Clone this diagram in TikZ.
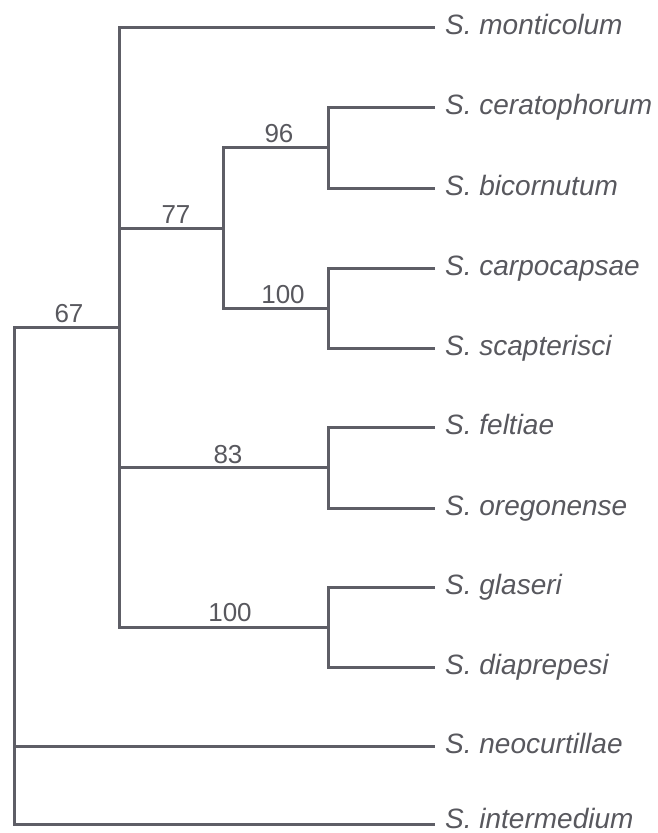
\documentclass[tikz,border=0pt]{standalone}
\usepackage{fontspec}
\setmainfont{Liberation Sans}
\definecolor{linegray}{HTML}{5E5E66}
\definecolor{textgray}{HTML}{58585E}
\begin{document}
\begin{tikzpicture}[x=1pt,y=-1pt,
  br/.style={line width=3pt, draw=linegray, line join=miter},
  leaflabel/.style={anchor=base west, inner sep=0pt, text=textgray,
    font=\fontsize{28}{30}\selectfont\itshape, xshift=10pt, yshift=-7pt},
  bootlabel/.style={anchor=base, inner sep=0pt, text=textgray,
    font=\fontsize{26}{28}\selectfont}]
\useasboundingbox (0,0) rectangle (658,833);
% leaf tips
\coordinate (t1) at (435,27);
\coordinate (t2) at (435,107);
\coordinate (t3) at (435,188);
\coordinate (t4) at (435,268);
\coordinate (t5) at (435,348);
\coordinate (t6) at (435,427);
\coordinate (t7) at (435,508);
\coordinate (t8) at (435,587);
\coordinate (t9) at (435,667);
\coordinate (t10) at (435,746);
\coordinate (t11) at (435,824);
% internal nodes
\coordinate (R) at (14,327);
\coordinate (N1) at (119,327);
\coordinate (N77) at (223,228);
\coordinate (N96) at (328,147.5);
\coordinate (Na) at (328,308);
\coordinate (N83) at (328,467.5);
\coordinate (Nb) at (328,627);
% branches
\draw[br] (N1) -- (R) |- (t11);
\draw[br] (R) |- (t10);
\draw[br] (t1) -| (N1) |- (Nb);
\draw[br] (N1) |- (N77);
\draw[br] (N96) -| (N77) |- (Na);
\draw[br] (t2) -| (N96) |- (t3);
\draw[br] (t4) -| (Na) |- (t5);
\draw[br] (t6) -| (N83) |- (t7);
\draw[br] (N83) -- (N83 -| N1);
\draw[br] (t8) -| (Nb) |- (t9);
% leaf labels
\node[leaflabel] (l1) at (t1) {S. monticolum};
\node[leaflabel] (l2) at (t2) {S. ceratophorum};
\node[leaflabel] (l3) at (t3) {S. bicornutum};
\node[leaflabel] (l4) at (t4) {S. carpocapsae};
\node[leaflabel] (l5) at (t5) {S. scapterisci};
\node[leaflabel] (l6) at (t6) {S. feltiae};
\node[leaflabel] (l7) at (t7) {S. oregonense};
\node[leaflabel] (l8) at (t8) {S. glaseri};
\node[leaflabel] (l9) at (t9) {S. diaprepesi};
\node[leaflabel] (l10) at (t10) {S. neocurtillae};
\node[leaflabel, yshift=3pt] (l11) at (t11) {S. intermedium};
% bootstrap values
\node[bootlabel] (b67) at (69,322) {67};
\node[bootlabel] (b77) at (176,223) {77};
\node[bootlabel] (b96) at (279,142.5) {96};
\node[bootlabel] (b100a) at (283,303) {100};
\node[bootlabel] (b83) at (228,463) {83};
\node[bootlabel] (b100b) at (230,621) {100};
\end{tikzpicture}
\end{document}
